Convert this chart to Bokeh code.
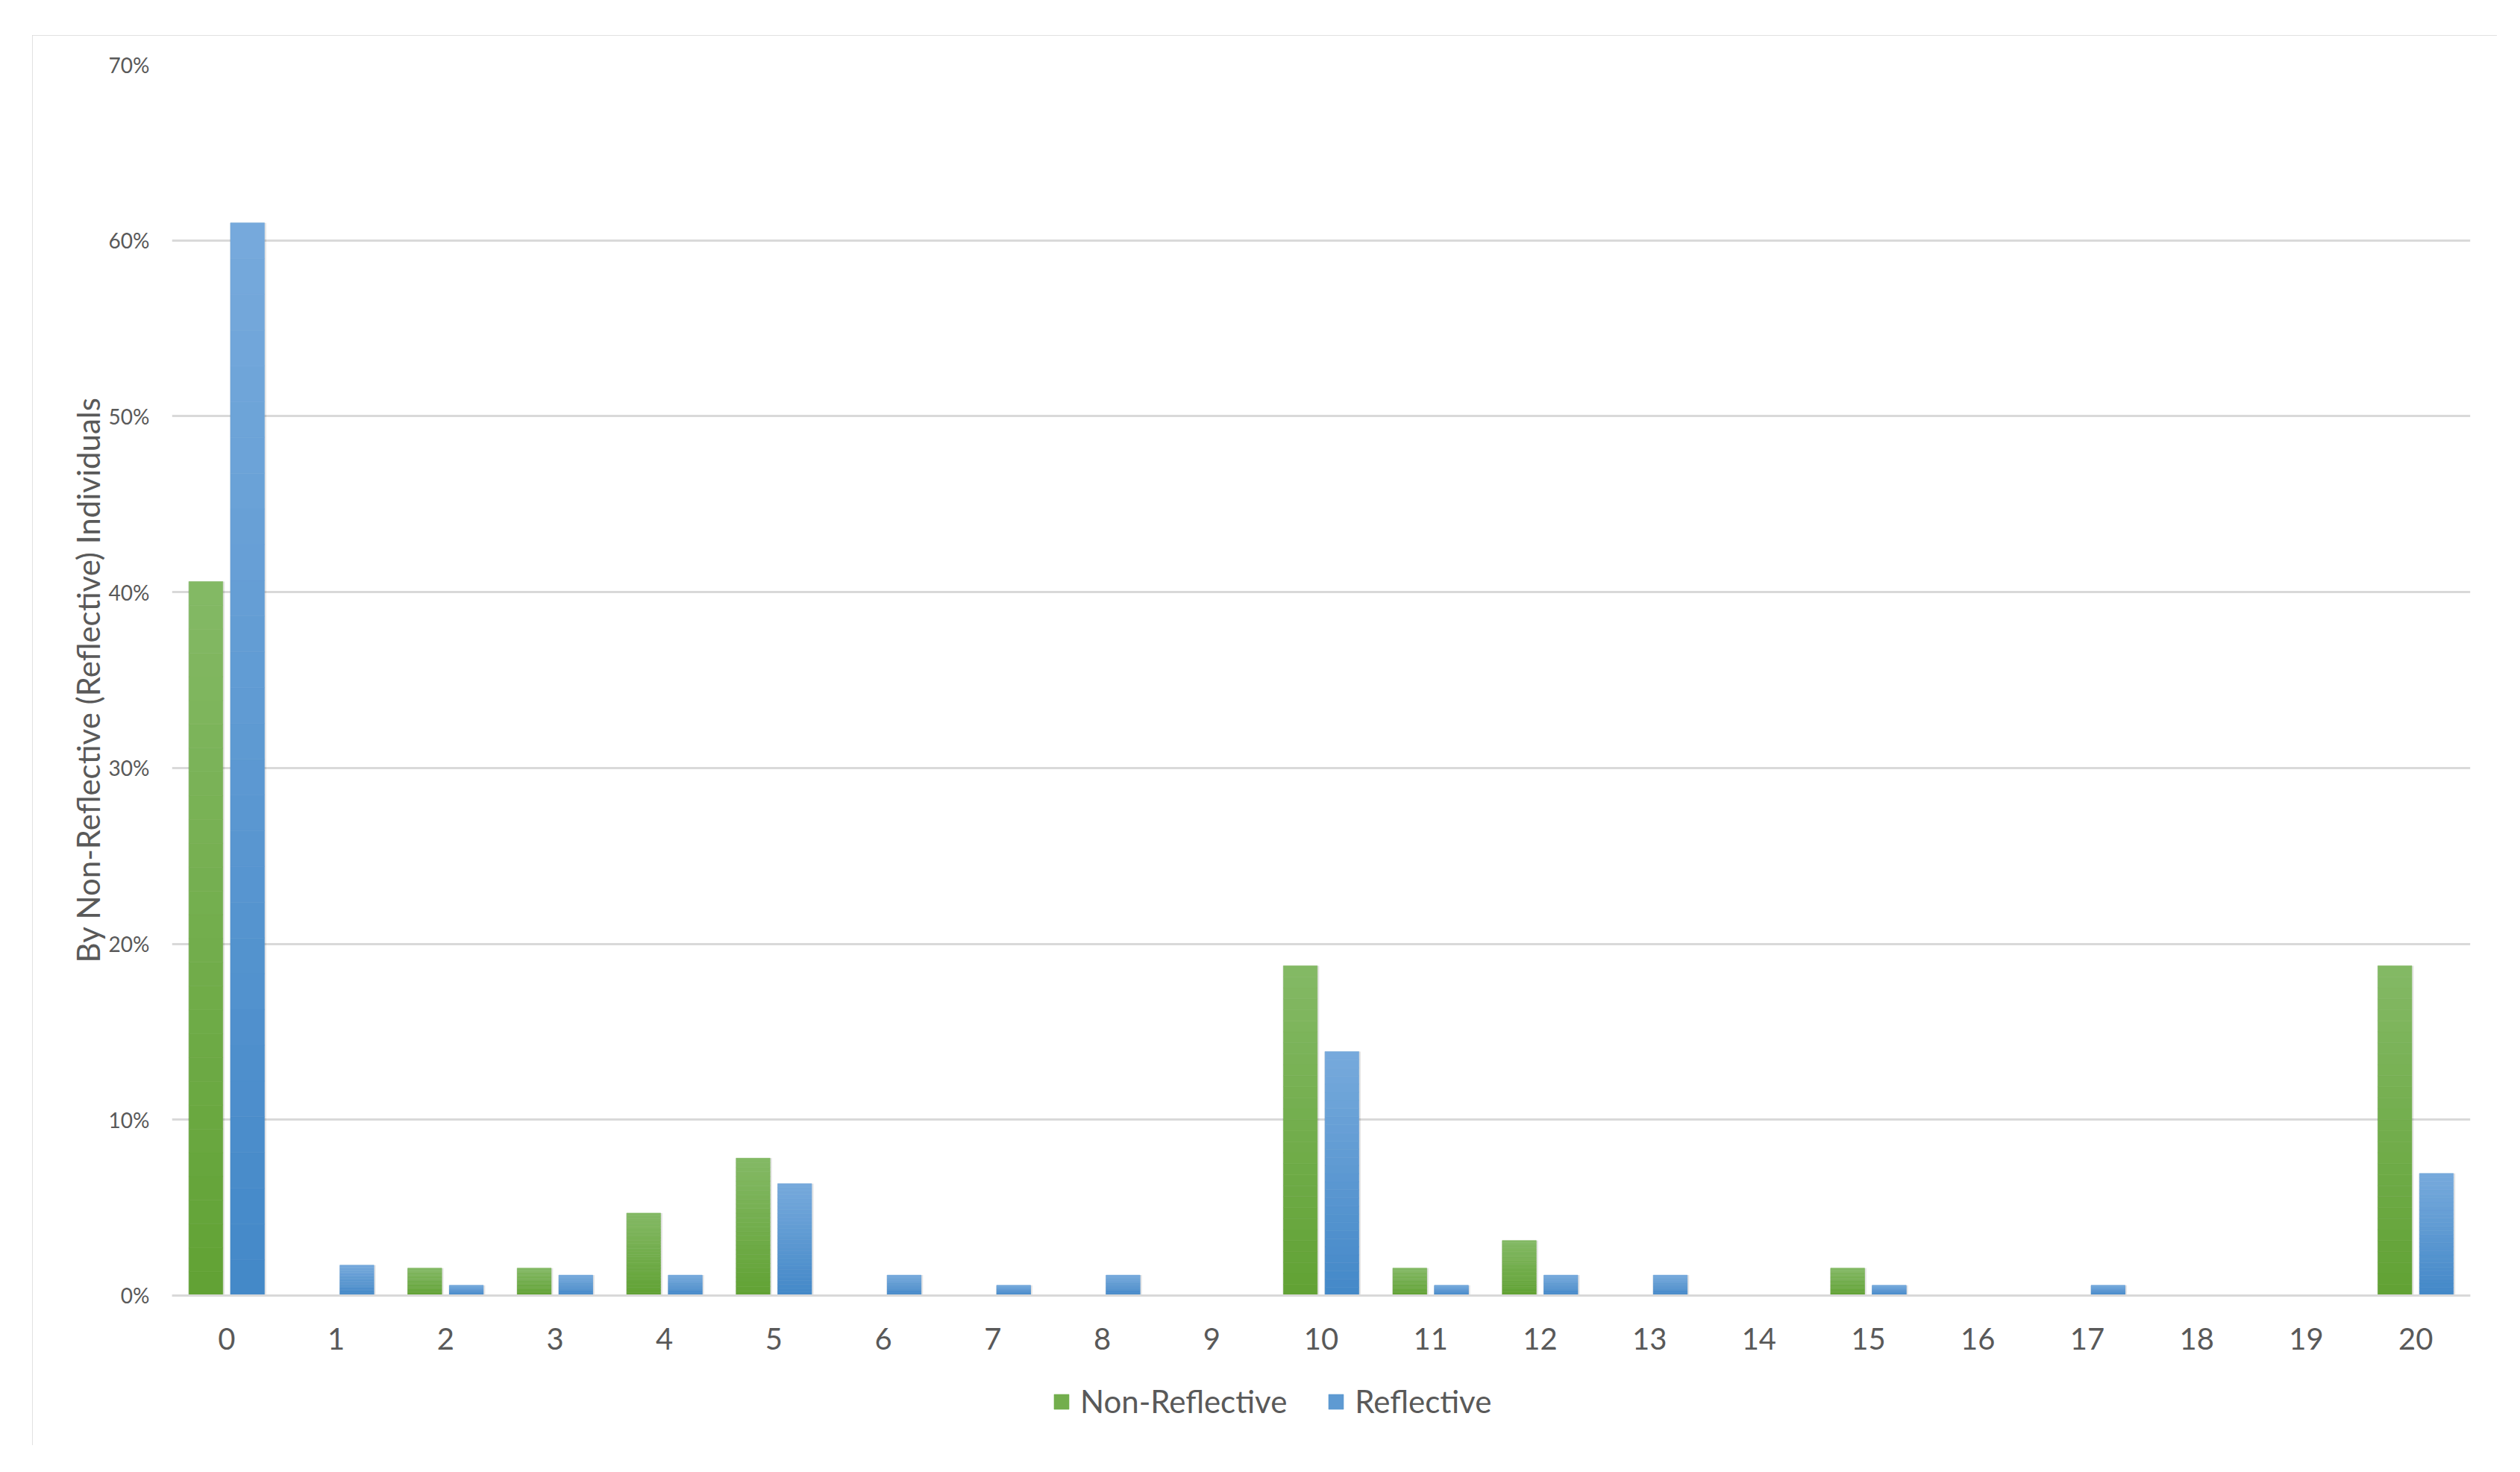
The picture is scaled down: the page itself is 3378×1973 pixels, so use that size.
from bokeh.plotting import figure
from bokeh.models import (ColumnDataSource, FactorRange, Legend, LegendItem,
                          PrintfTickFormatter, Range1d, FixedTicker, Title)
from bokeh.transform import dodge
from bokeh.embed import file_html
from bokeh.resources import INLINE

# ---- data (percent of individuals) ----
categories = [str(i) for i in range(21)]
non_reflective = [40.6, 0.0, 1.56, 1.56, 4.69, 7.81, 0.0, 0.0, 0.0, 0.0, 18.75,
                  1.56, 3.13, 0.0, 0.0, 1.56, 0.0, 0.0, 0.0, 0.0, 18.75]
reflective = [61.0, 1.73, 0.58, 1.16, 1.16, 6.36, 1.16, 0.58, 1.16, 0.0, 13.87,
              0.58, 1.16, 1.16, 0.0, 0.58, 0.0, 0.58, 0.0, 0.0, 6.94]
series_names = ["Non-Reflective", "Reflective"]
y_title = "By Non-Reflective (Reflective) Individuals"
y_ticks = [0, 10, 20, 30, 40, 50, 60, 70]

FONT = "Lato"
TXT = "#595959"
GRID = "#d9d9d9"

# the frame reaches below 0% so that the x labels and the legend sit inside it
p = figure(x_range=FactorRange(*categories, range_padding=0),
           y_range=Range1d(-8.36, 70),
           width=3304, height=1890,
           output_backend="svg", toolbar_location=None,
           min_border_left=187, min_border_right=36,
           min_border_top=39, min_border_bottom=4)
p.margin = (47, 0, 0, 43)
p.styles = {"outline": "3px solid #d9d9d9", "outline-offset": "-3px"}
p.outline_line_color = None
p.background_fill_color = "white"
p.border_fill_color = "white"

# grid
p.xgrid.grid_line_color = None
p.ygrid.grid_line_color = GRID
p.ygrid.grid_line_width = 3
p.yaxis.ticker = FixedTicker(ticks=y_ticks)
p.yaxis.bounds = (0, 70)

# axes
p.yaxis.formatter = PrintfTickFormatter(format="%d%%")
p.yaxis.axis_line_color = None
p.yaxis.major_tick_line_color = None
p.yaxis.minor_tick_line_color = None
p.yaxis.major_label_text_font = FONT
p.yaxis.major_label_text_font_size = "28px"
p.yaxis.major_label_text_color = TXT
p.yaxis.major_label_standoff = 24

# y-axis title, centred on the 0-70% span (not the whole frame)
p.add_layout(Title(text=y_title, align="left", offset=643, standoff=0,
                   text_font=FONT, text_font_size="42px",
                   text_font_style="normal", text_color=TXT), "left")

p.xaxis.fixed_location = 0
p.xaxis.axis_line_color = GRID
p.xaxis.axis_line_width = 3
p.xaxis.major_tick_line_color = None
p.xaxis.minor_tick_line_color = None
p.xaxis.major_label_text_font = FONT
p.xaxis.major_label_text_font_size = "40px"
p.xaxis.major_label_text_color = TXT
p.xaxis.major_label_standoff = 38


def lerp(c1, c2, t):
    a = [int(c1[i:i + 2], 16) for i in (1, 3, 5)]
    b = [int(c2[i:i + 2], 16) for i in (1, 3, 5)]
    return "#%02x%02x%02x" % tuple(round(a[k] + (b[k] - a[k]) * t) for k in range(3))


styles = [
    # (bottom colour, top colour, offset)
    ("#61a234", "#84b965", -0.19),
    ("#4388c8", "#77aadc", 0.19),
]
NB = 30
BAR_W = 0.31
legend_items = []
for (bot_c, top_c, off), name, vals in zip(styles, series_names,
                                           [non_reflective, reflective]):
    # soft shadow
    sh = ColumnDataSource(dict(cat=categories, top=vals))
    p.vbar(x=dodge("cat", off + 0.006, range=p.x_range), top="top", bottom=0,
           width=BAR_W + 0.022, source=sh, fill_color="#000000",
           fill_alpha=0.10, line_color=None)
    # gradient bands
    cats, bots, tops, cols = [], [], [], []
    for c, v in zip(categories, vals):
        for k in range(NB):
            cats.append(c)
            bots.append(v * k / NB)
            tops.append(v * (k + 1) / NB)
            cols.append(lerp(bot_c, top_c, (k + 0.5) / NB))
    src = ColumnDataSource(dict(cat=cats, bottom=bots, top=tops, color=cols))
    r = p.vbar(x=dodge("cat", off, range=p.x_range), top="top", bottom="bottom",
               width=BAR_W, source=src, fill_color="color", line_color="color",
               line_width=0.6)
    legend_items.append(LegendItem(label=name, renderers=[r], index=NB // 2))

legend = Legend(items=legend_items, orientation="horizontal",
                location=(1180, 30),
                glyph_width=25, glyph_height=25, label_standoff=13,
                spacing=53, padding=0, margin=0,
                label_text_font=FONT, label_text_font_size="42px",
                label_text_color=TXT, border_line_color=None,
                background_fill_alpha=0)
p.add_layout(legend, "center")

open("out.html", "w").write(file_html(p, INLINE))
